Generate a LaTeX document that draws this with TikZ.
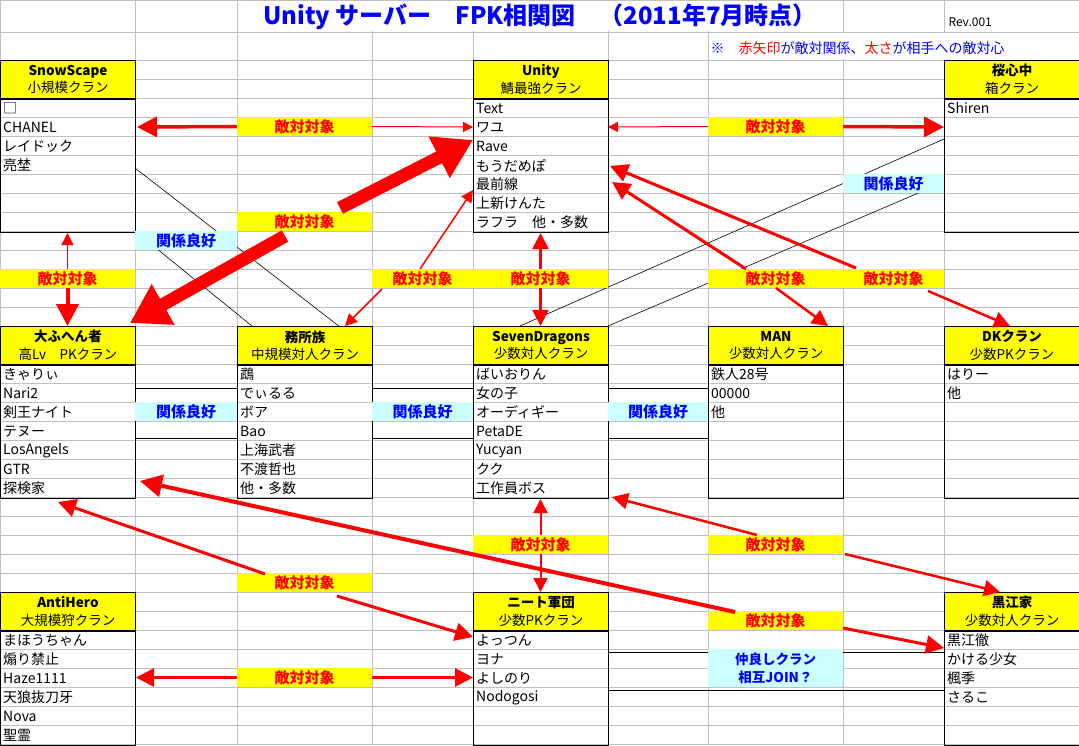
\documentclass[tikz,border=0pt]{standalone}
\usepackage{fontspec}
\setmainfont{Noto Sans CJK JP}
\usetikzlibrary{arrows.meta,positioning}

\definecolor{xlgrid}{RGB}{192,192,192}
\definecolor{xlyellow}{RGB}{255,255,0}
\definecolor{xlcyan}{RGB}{204,255,255}
\definecolor{xlblue}{RGB}{0,0,255}
\definecolor{xlred}{RGB}{255,0,0}

\begin{document}
\begin{tikzpicture}[x=1pt,y=-1pt,
  hd/.style={draw=black,line width=1pt,fill=xlyellow,minimum width=135pt,minimum height=38pt,
    inner sep=0pt,anchor=north west,align=center,font=\fontsize{13.5}{17.5}\selectfont},
  bd/.style={draw=black,line width=1pt,minimum width=135pt,inner sep=0pt,anchor=north west},
  item/.style={anchor=west,inner sep=0pt,font=\fontsize{14}{16}\selectfont},
  enemy/.style={fill=xlyellow,text=xlred,minimum height=19pt,inner sep=0pt,
    font=\bfseries\fontsize{15}{17}\selectfont},
  good/.style={fill=xlcyan,text=xlblue,minimum height=19pt,inner sep=0pt,
    font=\bfseries\fontsize{15}{17}\selectfont},
  hit/.style={draw=xlred,line width=#1,-{Triangle[length=4*#1+6pt,width=4*#1+6pt]}},
  hit/.default=1.5pt,
  tie/.style={draw=black,line width=0.6pt}]

\useasboundingbox (0,0) rectangle (1079,745);
\fill[white] (0,0) rectangle (1079,745);

% sheet grid
\foreach \gx in {0,135,237,372,473,608,708,843,944,1079}
  \draw[xlgrid] (\gx,0) -- (\gx,745);
\foreach \gy in {0,32,60,79,...,744}
  \draw[xlgrid] (0,\gy) -- (1079,\gy);

% title and notes
\fill[white] (238,1) rectangle (842,31);
\node (title) at (540,17) {\textcolor{xlblue}{\bfseries\fontsize{24}{27}\selectfont Unity サーバー　FPK相関図　（2011年7月時点）}};
\node[anchor=west,font=\fontsize{12}{14}\selectfont] (rev) at (945,22) {Rev.001};
\fill[white] (709,33) rectangle (1078,59);
\node[anchor=west,font=\fontsize{14}{16}\selectfont] (note) at (707,48)
  {\textcolor{xlblue}{※　}\textcolor{xlred}{赤矢印}\textcolor{xlblue}{が敵対関係、}\textcolor{xlred}{太さ}\textcolor{xlblue}{が相手への敵対心}};

% first row of clans
\node[hd] (snow) at (0,60) {\textbf{SnowScape}\\小規模クラン};
\node[bd,minimum height=133pt] (snowb) at (snow.south west) {};
\foreach \t [count=\i] in {□,CHANEL,レイドック,亮埜}
  \node[item] at ([xshift=3pt,yshift={-(\i-0.5)*19pt}]snowb.north west) {\t};

\node[hd] (unity) at (473,60) {\textbf{Unity}\\鯖最強クラン};
\node[bd,minimum height=133pt] (unityb) at (unity.south west) {};
\foreach \t [count=\i] in {Text,ワユ,Rave,もうだめぽ,最前線,上新けんた,ラフラ　他・多数}
  \node[item] at ([xshift=3pt,yshift={-(\i-0.5)*19pt}]unityb.north west) {\t};

\node[hd] (oshin) at (944,60) {\textbf{桜心中}\\箱クラン};
\node[bd,minimum height=133pt] (oshinb) at (oshin.south west) {};
\foreach \t [count=\i] in {Shiren}
  \node[item] at ([xshift=3pt,yshift={-(\i-0.5)*19pt}]oshinb.north west) {\t};

% second row of clans
\node[hd] (daif) at (0,326) {\textbf{大ふへん者}\\高Lv　PKクラン};
\node[bd,minimum height=133pt] (daifb) at (daif.south west) {};
\foreach \t [count=\i] in {きゃりぃ,Nari2,剣王ナイト,テヌー,LosAngels,GTR,探検家}
  \node[item] at ([xshift=3pt,yshift={-(\i-0.5)*19pt}]daifb.north west) {\t};

\node[hd] (mush) at (237,326) {\textbf{務所族}\\中規模対人クラン};
\node[bd,minimum height=133pt] (mushb) at (mush.south west) {};
\foreach \t [count=\i] in {鵡,でぃるる,ボア,Bao,上海武者,不渡哲也,他・多数}
  \node[item] at ([xshift=3pt,yshift={-(\i-0.5)*19pt}]mushb.north west) {\t};

\node[hd] (seven) at (473,326) {\textbf{SevenDragons}\\少数対人クラン};
\node[bd,minimum height=133pt] (sevenb) at (seven.south west) {};
\foreach \t [count=\i] in {ばいおりん,女の子,オーディギー,PetaDE,Yucyan,クク,工作員ボス}
  \node[item] at ([xshift=3pt,yshift={-(\i-0.5)*19pt}]sevenb.north west) {\t};

\node[hd] (man) at (708,326) {\textbf{MAN}\\少数対人クラン};
\node[bd,minimum height=133pt] (manb) at (man.south west) {};
\foreach \t [count=\i] in {鉄人28号,00000,他}
  \node[item] at ([xshift=3pt,yshift={-(\i-0.5)*19pt}]manb.north west) {\t};

\node[hd] (dk) at (944,326) {\textbf{DKクラン}\\少数PKクラン};
\node[bd,minimum height=133pt] (dkb) at (dk.south west) {};
\foreach \t [count=\i] in {はりー,他}
  \node[item] at ([xshift=3pt,yshift={-(\i-0.5)*19pt}]dkb.north west) {\t};

% third row of clans
\node[hd] (anti) at (0,592) {\textbf{AntiHero}\\大規模狩クラン};
\node[bd,minimum height=114pt] (antib) at (anti.south west) {};
\foreach \t [count=\i] in {まほうちゃん,煽り禁止,Haze1111,天狼抜刀牙,Nova,聖霊}
  \node[item] at ([xshift=3pt,yshift={-(\i-0.5)*19pt}]antib.north west) {\t};

\node[hd] (neet) at (473,592) {\textbf{ニート軍団}\\少数PKクラン};
\node[bd,minimum height=114pt] (neetb) at (neet.south west) {};
\foreach \t [count=\i] in {よっつん,ヨナ,よしのり,Nodogosi}
  \node[item] at ([xshift=3pt,yshift={-(\i-0.5)*19pt}]neetb.north west) {\t};

\node[hd] (kuroe) at (944,592) {\textbf{黒江家}\\少数対人クラン};
\node[bd,minimum height=114pt] (kuroeb) at (kuroe.south west) {};
\foreach \t [count=\i] in {黒江徹,かける少女,楓季,さるこ}
  \node[item] at ([xshift=3pt,yshift={-(\i-0.5)*19pt}]kuroeb.north west) {\t};

% friendly ties
\coordinate (snowA) at (135,168);  \coordinate (mushA) at (340,327);
\coordinate (snowB) at (135,231);  \coordinate (mushB) at (252,326);
\coordinate (oshinA) at (944,139); \coordinate (sevenA) at (520,326);
\coordinate (oshinB) at (944,182); \coordinate (sevenB) at (608,326);
\draw[tie] (snowA) -- (mushA);
\draw[tie] (snowB) -- (mushB);
\draw[tie] (oshinA) -- (sevenA);
\draw[tie] (oshinB) -- (sevenB);
\foreach \ya in {388,438}{
  \draw[tie] (daifb.east |- 0,\ya) -- (mushb.west |- 0,\ya);
  \draw[tie] (mushb.east |- 0,\ya) -- (sevenb.west |- 0,\ya);
  \draw[tie] (sevenb.east |- 0,\ya) -- (manb.west |- 0,\ya);}
\foreach \ya in {652,690}
  \draw[tie] (neetb.east |- 0,\ya) -- (kuroeb.west |- 0,\ya);

% labels
\node[enemy,minimum width=135pt] (e1) at (304.5,126.5) {敵対対象};
\node[enemy,minimum width=135pt] (e2) at (775.5,126.5) {敵対対象};
\node[enemy,minimum width=135pt] (e3) at (304.5,221.5) {敵対対象};
\node[enemy,minimum width=135pt] (e4) at (67.5,278.5) {敵対対象};
\node[enemy,minimum width=101pt] (e5) at (422.5,278.5) {敵対対象};
\node[enemy,minimum width=135pt] (e6) at (540.5,278.5) {敵対対象};
\node[enemy,minimum width=135pt] (e7) at (775.5,278.5) {敵対対象};
\node[enemy,minimum width=101pt] (e8) at (893.5,278.5) {敵対対象};
\node[enemy,minimum width=135pt] (e9) at (540.5,544.5) {敵対対象};
\node[enemy,minimum width=135pt] (e10) at (775.5,544.5) {敵対対象};
\node[enemy,minimum width=135pt] (e11) at (304.5,582.5) {敵対対象};
\node[enemy,minimum width=135pt] (e12) at (775.5,620.5) {敵対対象};
\node[enemy,minimum width=135pt] (e13) at (304.5,677.5) {敵対対象};
\node[good,minimum width=102pt] (g1) at (186,240.5) {関係良好};
\node[good,minimum width=101pt] (g2) at (893.5,183.5) {関係良好};
\node[good,minimum width=102pt] (g3) at (186,411.5) {関係良好};
\node[good,minimum width=101pt] (g4) at (422.5,411.5) {関係良好};
\node[good,minimum width=100pt] (g5) at (658,411.5) {関係良好};
\node[good,minimum width=135pt,minimum height=38pt,align=center,
  font=\bfseries\fontsize{13.5}{18}\selectfont] (join) at (775.5,668) {仲良しクラン\\相互JOIN？};

% hostility arrows
\coordinate (snowW) at (137,127);   \coordinate (unityW) at (473,127);
\coordinate (unityE) at (608,127);  \coordinate (oshinW) at (944,127);
\draw[hit=3.5pt] (e1.west) -- (snowW);
\draw[hit=1pt] (e1.east) -- (unityW);
\draw[hit=1pt] (e2.west) -- (unityE);
\draw[hit=3.5pt] (e2.east) -- (oshinW);

\coordinate (bigA) at (340,208);  \coordinate (unityR) at (473,140);
\coordinate (bigB) at (285,236);  \coordinate (daifN) at (130,323);
\draw[draw=xlred,line width=13pt,-{Triangle[length=38pt,width=44pt]}] (bigA) -- (unityR);
\draw[draw=xlred,line width=13pt,-{Triangle[length=38pt,width=44pt]}] (bigB) -- (daifN);

\draw[hit=1.5pt] (e4.north) -- (snowb.south -| e4);
\draw[hit=4pt] (e4.south) -- (daif.north -| e4);

\coordinate (e5a) at (420,269); \coordinate (unityS) at (473,190);
\coordinate (e5b) at (382,289); \coordinate (mushN) at (345,326);
\draw[hit=1.5pt] (e5a) -- (unityS);
\draw[hit=1.5pt] (e5b) -- (mushN);

\draw[hit=2.5pt] (e6.north) -- (unityb.south -| e6);
\draw[hit=2.5pt] (e6.south) -- (seven.north -| e6);

\coordinate (e7a) at (746,269); \coordinate (unityM) at (612,182);
\coordinate (e7b) at (776,288); \coordinate (manN) at (828,326);
\draw[hit=3pt] (e7a) -- (unityM);
\draw[hit=2.5pt] (e7b) -- (manN);

\coordinate (e8a) at (856,268); \coordinate (unityD) at (610,166);
\coordinate (e8b) at (928,291); \coordinate (dkN) at (1010,326);
\draw[hit=3pt] (e8a) -- (unityD);
\draw[hit=2.5pt] (e8b) -- (dkN);

\draw[hit=2pt] (e9.north) -- (sevenb.south -| e9);
\draw[hit=2pt] (e9.south) -- (neet.north -| e9);

\coordinate (e10a) at (757,535); \coordinate (sevenS) at (612,497);
\coordinate (e10b) at (845,554); \coordinate (kuroeN) at (1000,592);
\draw[hit=2.5pt] (e10a) -- (sevenS);
\draw[hit=2.5pt] (e10b) -- (kuroeN);

\coordinate (e11a) at (265,574); \coordinate (daifS) at (58,502);
\coordinate (e11b) at (337,596); \coordinate (neetW) at (473,637);
\draw[hit=3pt] (e11a) -- (daifS);
\draw[hit=3pt] (e11b) -- (neetW);

\coordinate (e12a) at (735,612); \coordinate (daifE) at (140,481);
\coordinate (e12b) at (843,628); \coordinate (kuroeW) at (944,648);
\draw[hit=4pt] (e12a) -- (daifE);
\draw[hit=3pt] (e12b) -- (kuroeW);

\draw[hit=3pt] (e13.west) -- (antib.east |- e13);
\draw[hit=3pt] (e13.east) -- (neetb.west |- e13);

\end{tikzpicture}
\end{document}
